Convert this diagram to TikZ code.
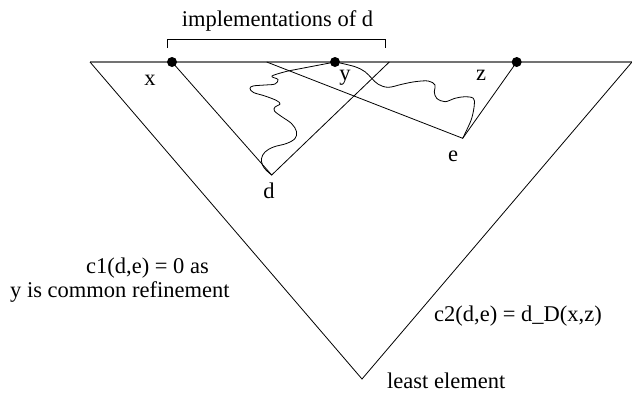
\documentclass[tikz,border=0pt]{standalone}
\usepackage{fontspec}
\setmainfont{Liberation Serif}

\begin{document}
\begin{tikzpicture}[
  x=1pt, y=-1pt,
  every node/.style={font=\fontsize{22.5}{27}\selectfont, inner sep=0pt},
  lbl/.style={anchor=base},
  txt/.style={anchor=base west},
  dot/.style={circle, fill=black, minimum size=10pt, inner sep=0pt},
  edge/.style={line width=0.8pt},
  wiggle/.style={line width=0.8pt, smooth, tension=0.6},
  topline/.style={line width=1.6pt, black!55}
]
  \useasboundingbox (0,0) rectangle (632,392);

  % corners of the big triangle and the two small ones
  \coordinate (tl) at (90,62);
  \coordinate (tr) at (632,62);
  \coordinate (least) at (362,379);
  \coordinate (dv) at (271.7,175);
  \coordinate (dr) at (389.3,62);
  \coordinate (el) at (266.7,62);
  \coordinate (ev) at (462.7,138.3);
  \coordinate (hook) at (288,71);

  \draw[topline] (tl) -- (tr);

  \node[dot] (xdot) at (172,62) {};
  \node[dot] (ydot) at (335,62) {};
  \node[dot] (zdot) at (516.7,62) {};

  \draw[edge] (tl) -- (least) -- (tr);
  \draw[edge] (xdot.center) -- (dv) -- (dr);
  \draw[edge] (el) -- (ev) -- (zdot.center);
  \draw[edge] (ydot.center) -- (hook);

  % wavy paths
  \draw[wiggle] plot coordinates {(288,71) (272,76) (278,79.5) (275,84) (265,85)
    (253,86) (250,88.5) (253.5,92.5) (265,96) (276.5,100.5) (280,104) (275,107)
    (274.5,111) (281.5,116.5) (291.5,123.5) (296.5,131.5) (295,138.5) (286.5,143.5)
    (273.5,147) (265,152) (261.5,158.5) (262.5,165) (266,170) (271.7,175)};
  \draw[wiggle] plot coordinates {(340,63) (355,66.7) (365,71.7) (371.7,78.3)
    (378.3,84.3) (388.3,87.3) (401.7,84.3) (415,81.7) (428.3,81) (435,85)
    (434.3,91.7) (436.7,98.3) (445,101.7) (455,98.3) (465,96.7) (473.3,98.3)
    (474.3,105) (471.7,118.3) (466.7,130) (462.7,138.3)};

  % bracket over the implementations
  \coordinate (bl) at (167.7,48);
  \coordinate (br) at (385.7,48);
  \draw[edge] (bl) -- ++(0,-8.7) -| (br);

  \node[lbl] (impl) at (277.5,26) {implementations of d};
  \node[lbl] (lx) at (150,85) {x};
  \node[lbl] (ly) at (345,80) {y};
  \node[lbl] (lz) at (481,80) {z};
  \node[lbl] (ld) at (269,198) {d};
  \node[lbl] (le) at (453,161.7) {e};

  \node[txt] (cone) at (86,273) {c1(d,e) = 0 as};
  \node[txt] (common) at (10,297) {y is common refinement};
  \node[txt] (ctwo) at (434,321) {c2(d,e) = d\_D(x,z)};
  \node[txt] (lleast) at (387,388) {least element};
\end{tikzpicture}
\end{document}
